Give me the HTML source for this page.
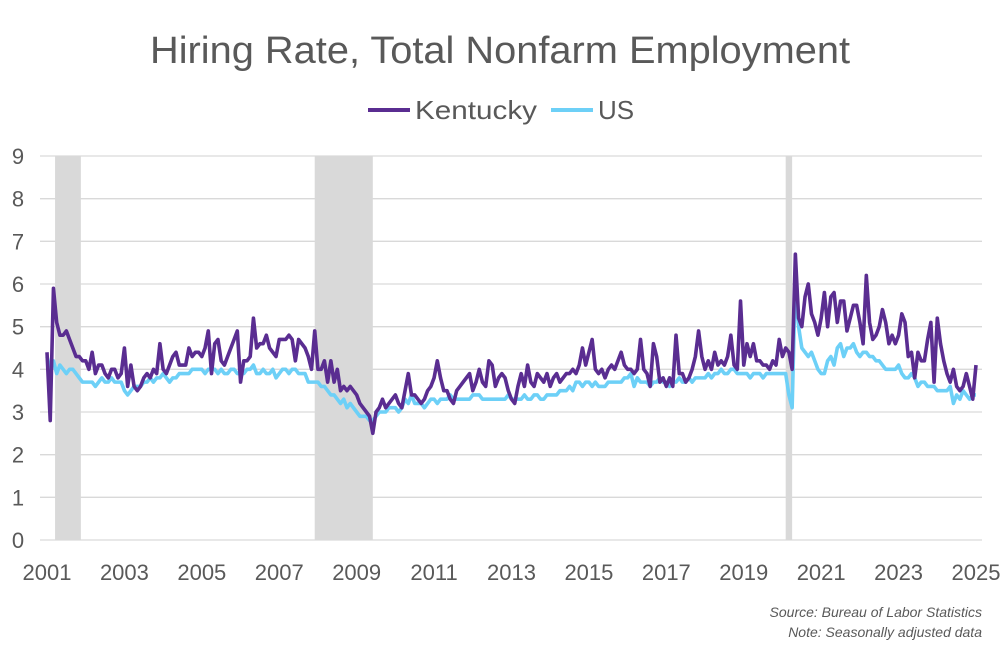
<!DOCTYPE html>
<html><head><meta charset="utf-8"><style>
body{margin:0;background:#fff;}
svg text{font-family:"Liberation Sans",sans-serif;fill:#595959;}
</style></head><body>
<svg id="chart" width="1000" height="660" viewBox="0 0 1000 660" xmlns="http://www.w3.org/2000/svg">
<text x="500" y="63" text-anchor="middle" font-size="38" textLength="700" lengthAdjust="spacingAndGlyphs">Hiring Rate, Total Nonfarm Employment</text>
<g>
<g><line x1="368" y1="110" x2="410" y2="110" stroke="#5a2d91" stroke-width="4"/><text x="415" y="119" font-size="26" textLength="122" lengthAdjust="spacingAndGlyphs">Kentucky</text></g>
<g><line x1="551" y1="110" x2="593" y2="110" stroke="#6dd0f7" stroke-width="4"/><text x="598" y="119" font-size="26">US</text></g>
</g>
<g id="rec"></g>
<g id="grid"></g>
<g id="ylab"></g>
<g id="xlab"></g>
<g id="lines"></g>
<text x="982" y="617" text-anchor="end" font-size="14" font-style="italic">Source: Bureau of Labor Statistics</text>
<text x="982" y="637" text-anchor="end" font-size="14" font-style="italic">Note: Seasonally adjusted data</text>
</svg>
<script>
const yTicks=[0,1,2,3,4,5,6,7,8,9];
const xTicks=[2001,2003,2005,2007,2009,2011,2013,2015,2017,2019,2021,2023,2025];
const recessions=[[2001+2.5/12,2001+10.5/12],[2007+11/12,2009+5/12],[2020+1/12,2020+3/12]];
const kentucky=[
4.4,2.8,5.9,5.1,4.8,4.8,4.9,4.7,4.5,4.3,4.3,4.2,
4.2,4.0,4.4,3.9,4.1,4.1,3.9,3.8,4.0,4.0,3.8,3.9,
4.5,3.6,4.1,3.6,3.5,3.6,3.8,3.9,3.8,4.0,3.9,4.6,
4.0,3.9,4.1,4.3,4.4,4.1,4.1,4.1,4.5,4.3,4.4,4.4,
4.3,4.5,4.9,3.9,4.6,4.7,4.2,4.1,4.3,4.5,4.7,4.9,
3.7,4.2,4.2,4.3,5.2,4.5,4.6,4.6,4.8,4.5,4.4,4.3,
4.7,4.7,4.7,4.8,4.7,4.2,4.7,4.6,4.5,4.3,4.0,4.9,
4.0,4.0,4.2,3.7,4.2,3.7,4.0,3.5,3.6,3.5,3.6,3.5,
3.4,3.2,3.1,3.0,2.9,2.5,3.0,3.1,3.3,3.1,3.2,3.3,
3.4,3.2,3.1,3.5,3.9,3.4,3.4,3.3,3.2,3.3,3.5,3.6,
3.8,4.2,3.8,3.5,3.5,3.3,3.2,3.5,3.6,3.7,3.8,3.9,
3.5,3.7,4.0,3.7,3.6,4.2,4.1,3.6,3.8,3.9,3.8,3.5,
3.3,3.2,3.6,3.9,3.6,4.1,3.7,3.6,3.9,3.8,3.7,3.9,
3.6,3.8,3.9,3.7,3.8,3.9,3.9,4.0,3.9,4.1,4.5,4.1,
4.4,4.7,4.0,3.9,4.0,3.8,4.0,4.1,4.0,4.2,4.4,4.1,
4.0,4.0,3.9,4.0,4.7,4.0,3.9,3.6,4.6,4.3,3.7,3.8,
3.6,3.8,3.6,4.8,3.9,3.9,3.7,3.8,4.0,4.3,4.9,4.3,
4.0,4.2,4.0,4.4,4.1,4.2,4.1,4.3,4.8,4.1,4.0,5.6,
4.1,4.6,4.3,4.6,4.2,4.2,4.1,4.1,4.0,4.2,4.1,4.7,
4.3,4.5,4.4,4.0,6.7,5.2,5.0,5.7,6.0,5.3,5.1,4.8,
5.2,5.8,5.0,5.7,5.8,5.1,5.6,5.6,4.9,5.2,5.5,5.5,
5.1,4.6,6.2,5.1,4.7,4.8,5.0,5.4,5.1,4.6,4.8,4.6,
4.8,5.3,5.1,4.3,4.4,3.8,4.4,4.2,4.2,4.7,5.1,3.7,
5.2,4.6,4.2,3.9,3.7,4.0,3.6,3.5,3.6,3.9,3.6,3.3,
4.1];
const us=[
4.3,4.0,4.2,3.9,4.1,4.0,3.9,4.0,4.0,3.9,3.8,3.7,
3.7,3.7,3.7,3.6,3.7,3.8,3.7,3.7,3.8,3.7,3.7,3.7,
3.5,3.4,3.5,3.6,3.6,3.6,3.7,3.7,3.8,3.7,3.8,3.8,
3.9,3.8,3.7,3.8,3.8,3.9,3.9,3.9,3.9,4.0,4.0,4.0,
4.0,3.9,4.0,4.0,4.0,3.9,4.0,3.9,3.9,4.0,4.0,3.9,
3.9,3.9,4.0,4.0,4.1,3.9,3.9,4.0,3.9,3.9,4.0,3.8,
3.9,4.0,4.0,3.9,4.0,4.0,3.9,3.9,3.9,3.7,3.7,3.7,
3.7,3.6,3.6,3.5,3.4,3.4,3.3,3.2,3.3,3.1,3.2,3.1,
3.0,2.9,2.9,2.9,2.8,2.8,2.9,3.0,3.0,3.0,3.1,3.1,
3.1,3.0,3.1,3.3,3.2,3.4,3.2,3.2,3.2,3.1,3.2,3.3,
3.3,3.2,3.3,3.3,3.3,3.4,3.3,3.3,3.3,3.3,3.3,3.3,
3.4,3.4,3.4,3.3,3.3,3.3,3.3,3.3,3.3,3.3,3.3,3.4,
3.3,3.3,3.3,3.3,3.4,3.3,3.3,3.4,3.4,3.3,3.3,3.4,
3.4,3.4,3.4,3.5,3.5,3.5,3.6,3.5,3.7,3.7,3.6,3.7,
3.7,3.6,3.7,3.6,3.6,3.6,3.7,3.7,3.7,3.7,3.7,3.8,
3.8,3.9,3.6,3.8,3.7,3.7,3.7,3.6,3.7,3.7,3.8,3.7,
3.7,3.6,3.7,3.7,3.8,3.7,3.7,3.8,3.7,3.8,3.8,3.8,
3.8,3.9,3.8,3.9,3.9,4.0,3.9,3.9,4.0,4.0,3.9,3.9,
3.9,3.9,3.8,3.9,3.9,3.9,3.8,3.9,3.9,3.9,3.9,3.9,
3.9,3.9,3.4,3.1,6.1,5.0,4.5,4.4,4.3,4.4,4.2,4.0,
3.9,3.9,4.2,4.3,4.1,4.5,4.6,4.3,4.5,4.5,4.6,4.4,
4.3,4.4,4.4,4.3,4.3,4.2,4.2,4.1,4.0,4.0,4.0,4.0,
4.1,3.9,3.8,3.8,3.9,3.8,3.6,3.7,3.7,3.6,3.6,3.6,
3.5,3.5,3.5,3.5,3.6,3.2,3.4,3.3,3.5,3.4,3.3,3.4,
3.4];
const NS="http://www.w3.org/2000/svg";
const X0=47,X1=976,Y0=540,Y9=156;
function xs(t){return X0+(t-2001)/24*(X1-X0);}
function ys(v){return Y0-v/9*(Y0-Y9);}
function mk(tag,parent,attrs){const e=document.createElementNS(NS,tag);for(const k in attrs)e.setAttribute(k,attrs[k]);parent.appendChild(e);return e;}
const rec=document.getElementById('rec');
recessions.forEach(r=>{const e=mk('rect',rec,{x:xs(r[0]),y:ys(9),width:Math.max(3,xs(r[1])-xs(r[0])),height:ys(0)-ys(9),fill:'#d9d9d9'});

});
const grid=document.getElementById('grid'),yl=document.getElementById('ylab'),xl=document.getElementById('xlab');
yTicks.forEach(v=>{const g=mk('line',grid,{x1:40,x2:982,y1:ys(v),y2:ys(v),stroke:'#d9d9d9','stroke-width':1.3});


const t=mk('text',yl,{x:18,y:ys(v)+8,'text-anchor':'middle','font-size':22});t.textContent=v;

});
xTicks.forEach(v=>{const t=mk('text',xl,{x:xs(v),y:580,'text-anchor':'middle','font-size':22});t.textContent=v;

});
const lines=document.getElementById('lines');
function draw(arr,color,name){const d=arr.map((v,i)=>(i?'L':'M')+xs(2001+i/12).toFixed(2)+' '+ys(v).toFixed(2)).join(' ');
const p=mk('path',lines,{d:d,fill:'none',stroke:color,'stroke-width':3.6,'stroke-linejoin':'round'});

}
draw(us,'#6dd0f7','us-line');
draw(kentucky,'#5a2d91','kentucky-line');
</script>
</body></html>
